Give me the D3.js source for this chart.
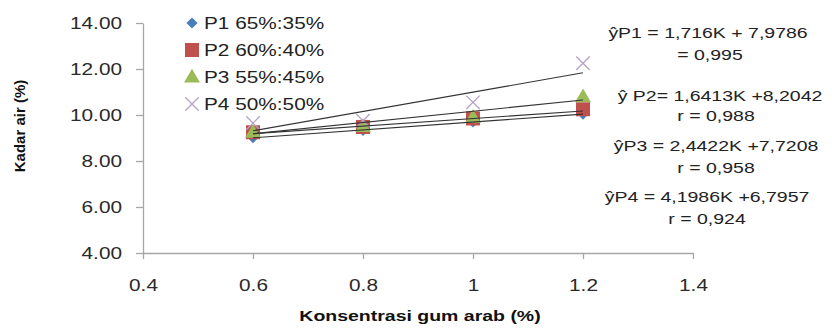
<!DOCTYPE html>
<html>
<head>
<meta charset="utf-8">
<script src="https://cdn.jsdelivr.net/npm/d3@7"></script>
<style>
  body { margin: 0; background: #fff; }
  text { font-family: "Liberation Sans", Arial, sans-serif; }
</style>
</head>
<body>
<div id="chart"></div>
<script>
var width = 832, height = 333;

// data
var konsentrasi = [0.6, 0.8, 1.0, 1.2];
var seriesNames = ["P1 65%:35%", "P2 60%:40%", "P3 55%:45%", "P4 50%:50%"];
var p1 = [9.02, 9.33, 9.70, 10.04];
var p2 = [9.25, 9.48, 9.85, 10.25];
var p3 = [9.25, 9.50, 9.90, 10.80];
var p4 = [9.65, 9.75, 10.55, 12.25];
var slopes = [1.716, 1.6413, 2.4422, 4.1986];
var intercepts = [7.9786, 8.2042, 7.7208, 6.7957];
var eqLines = ["ŷP1 = 1,716K + 7,9786", "= 0,995", "ŷ P2= 1,6413K +8,2042", "r = 0,988",
               "ŷP3 = 2,4422K +7,7208", "r = 0,958", "ŷP4 = 4,1986K +6,7957", "r = 0,924"];
var xTicks = [0.4, 0.6, 0.8, 1, 1.2, 1.4];
var yTicks = [4, 6, 8, 10, 12, 14];

var colors = ["#4a7ebb", "#c0504d", "#9bbb59", "#b3a2c7"];
var shapes = ["diamond", "square", "triangle", "cross"];
var stretch = 1.3; // the original picture is wider than tall text would be

var svg = d3.select("#chart").append("svg")
  .attr("width", width).attr("height", height);

var x = d3.scaleLinear().domain([0.4, 1.4]).range([143, 693]);
var y = d3.scaleLinear().domain([4, 14]).range([253, 23]);

// axes
var xAxis = svg.append("g").attr("transform", "translate(0,253)")
  .call(d3.axisBottom(x).tickValues(xTicks).tickSize(6).tickSizeOuter(0)
    .tickFormat(function(d) { return d3.format("")(d); }));
var yAxis = svg.append("g").attr("transform", "translate(143,0)")
  .call(d3.axisLeft(y).tickValues(yTicks).tickSize(7).tickSizeOuter(0)
    .tickFormat(d3.format(".2f")));

[xAxis, yAxis].forEach(function(a) {
  a.select(".domain").attr("stroke", "#a6a6a6").attr("stroke-width", 1.3);
  a.selectAll(".tick line").attr("stroke", "#a6a6a6").attr("stroke-width", 1.3);
  a.selectAll(".tick text").attr("fill", "#2a2a2a").style("font-size", "16px")
    .style("font-family", "'Liberation Sans', Arial, sans-serif")
    .attr("transform", "scale(" + stretch + ",1)");
});
xAxis.selectAll(".tick text").attr("y", 27);
yAxis.selectAll(".tick text").attr("x", -21 / stretch);

// axis titles
svg.append("text")
  .attr("transform", "translate(420,321) scale(" + stretch + ",1)")
  .attr("text-anchor", "middle")
  .style("font-size", "15px").style("font-weight", "bold")
  .attr("fill", "#111")
  .text("Konsentrasi gum arab (%)");

svg.append("text")
  .attr("transform", "translate(25,126) rotate(-90)")
  .attr("text-anchor", "middle")
  .style("font-size", "15px").style("font-weight", "bold")
  .style("font-family", "'Liberation Sans Narrow', 'Arial Narrow', sans-serif")
  .attr("fill", "#111")
  .text("Kadar air (%)");

// markers
function drawMarker(g, shape, color, cx, cy) {
  if (shape === "diamond") {
    g.append("path").attr("d", d3.symbol().type(d3.symbolDiamond2).size(80)())
      .attr("transform", "translate(" + cx + "," + cy + ")").attr("fill", color);
  } else if (shape === "square") {
    g.append("rect").attr("x", cx - 7).attr("y", cy - 7).attr("width", 14).attr("height", 14)
      .attr("fill", color);
  } else if (shape === "triangle") {
    g.append("path").attr("d", d3.symbol().type(d3.symbolTriangle).size(110)())
      .attr("transform", "translate(" + cx + "," + (cy + 1) + ")").attr("fill", color);
  } else {
    g.append("path").attr("d", d3.symbol().type(d3.symbolTimes).size(120)())
      .attr("transform", "translate(" + cx + "," + cy + ")")
      .attr("fill", "none").attr("stroke", color).attr("stroke-width", 1.3);
  }
}

var allSeries = [p1, p2, p3, p4];
var pts = svg.append("g");
allSeries.forEach(function(vals, i) {
  vals.forEach(function(v, j) {
    drawMarker(pts, shapes[i], colors[i], x(konsentrasi[j]), y(v));
  });
});

// trendlines
var trend = svg.append("g");
slopes.forEach(function(s, i) {
  var x0 = konsentrasi[0], x1 = konsentrasi[konsentrasi.length - 1];
  trend.append("line")
    .attr("x1", x(x0)).attr("y1", y(s * x0 + intercepts[i]))
    .attr("x2", x(x1)).attr("y2", y(s * x1 + intercepts[i]))
    .attr("stroke", "#333").attr("stroke-width", 1.1);
});

// legend
var legend = svg.append("g");
seriesNames.forEach(function(name, i) {
  var ly = 23 + i * 27;
  drawMarker(legend, shapes[i], colors[i], 192, ly);
  legend.append("text")
    .attr("transform", "translate(204," + (ly + 6) + ") scale(" + stretch + ",1)")
    .style("font-size", "16px").attr("fill", "#222").text(name);
});

// equations
var eqY = [33, 55, 96, 116, 146, 168, 197, 219];
var eqX = [708, 710, 720, 716, 716, 716, 707, 707];
eqLines.forEach(function(t, i) {
  svg.append("text")
    .attr("transform", "translate(" + eqX[i] + "," + (eqY[i] + 5) + ") scale(" + stretch + ",1)")
    .attr("text-anchor", "middle")
    .style("font-size", "15px").attr("fill", "#222").text(t);
});
</script>
</body>
</html>
